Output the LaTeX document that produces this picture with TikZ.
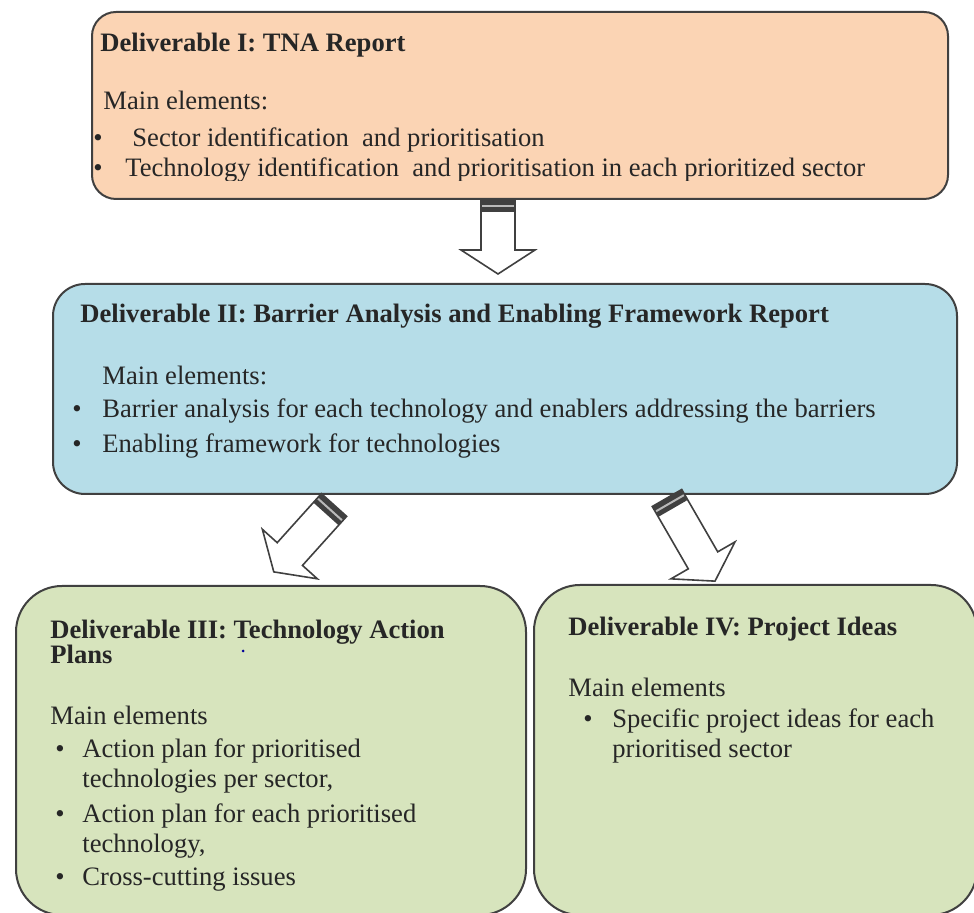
\documentclass[tikz,border=0pt]{standalone}
\usepackage{fontspec}
\setmainfont{Liberation Serif}
\definecolor{tnaorange}{HTML}{FBD4B4}
\definecolor{barrierblue}{HTML}{B6DDE8}
\definecolor{tapgreen}{HTML}{D7E4BD}
\definecolor{boxline}{HTML}{404040}
\definecolor{inkgray}{HTML}{262626}

\begin{document}
\begin{tikzpicture}[x=0.5pt, y=-0.5pt,
	box/.style={draw=boxline, line width=1pt, inner sep=0pt},
	txt/.style={anchor=base west, inner sep=0pt, text=inkgray, font=\fontsize{13.3}{15}\selectfont, align=left},
	head/.style={txt, font=\fontsize{13.3}{15}\selectfont\bfseries},
	pics/blockarrow/.style={code={
		\draw[draw=boxline, fill=white, line width=0.8pt] (0,-17) -- (#1-24,-17) -- (#1-24,-37) -- (#1,0) -- (#1-24,37) -- (#1-24,17) -- (0,17) -- cycle;
		\fill[boxline] (0,-17) rectangle (12,17);
		\draw[gray!55, line width=1pt] (6,-16) -- (6,16);
	}}]
	\clip (0,0) rectangle (974,913);
	% the four deliverables
	\node[box, fill=tnaorange, rounded corners=12pt, minimum width=428pt, minimum height=93.5pt] (tna) at (520,105.5) {};
	\node[box, fill=barrierblue, rounded corners=16pt, minimum width=452pt, minimum height=105pt] (baef) at (505,389) {};
	\node[box, fill=tapgreen, rounded corners=23pt, minimum width=255pt, minimum height=164.5pt] (tap) at (271,750.5) {};
	\node[box, fill=tapgreen, rounded corners=23pt, minimum width=221.5pt, minimum height=165pt] (pid) at (755.5,750) {};

	% Deliverable I
	\node[head] (tnaHead) at (100,52) {Deliverable I: TNA Report};
	\node[txt] (tnaMain) at (103,110) {Main elements:};
	\node[txt] (tnaDotA) at (93,147) {\textbullet};
	\node[txt] (tnaItemA) at (132,147) {Sector identification \ and prioritisation};
	\node[txt] (tnaDotB) at (93,177) {\textbullet};
	\begin{scope}
		\clip (0,0) rectangle (974,181);
		\node[txt] (tnaItemB) at (125,177) {Technology identification \ and prioritisation in each prioritized sector};
	\end{scope}

	% Deliverable II
	\node[head] (baefHead) at (80,323) {Deliverable II: Barrier Analysis and Enabling Framework Report};
	\node[txt] (baefMain) at (102,385) {Main elements:};
	\node[txt] (baefDotA) at (72,418) {\textbullet};
	\node[txt] (baefItemA) at (102,418) {Barrier analysis for each technology and enablers addressing the barriers};
	\node[txt] (baefDotB) at (72,453) {\textbullet};
	\node[txt] (baefItemB) at (102,453) {Enabling framework for technologies};

	% Deliverable III (two-line nodes sit on the baseline of their last line)
	\node[head] (tapHead) at (50,664) {Deliverable III: Technology Action\\[-2.3pt]Plans};
	\fill[blue!60!black] (243,651) circle (1.5);
	\node[txt] (tapMain) at (50,725) {Main elements};
	\node[txt] (tapDotA) at (55,757) {\textbullet};
	\node[txt] (tapItemA) at (82,787) {Action plan for prioritised\\technologies per sector,};
	\node[txt] (tapDotB) at (55,822) {\textbullet};
	\node[txt] (tapItemB) at (82,852) {Action plan for each prioritised\\technology,};
	\node[txt] (tapDotC) at (55,885) {\textbullet};
	\node[txt] (tapItemC) at (82,885) {Cross-cutting issues};

	% Deliverable IV
	\node[head] (pidHead) at (568,636) {Deliverable IV: Project Ideas};
	\node[txt] (pidMain) at (568,697) {Main elements};
	\node[txt] (pidDotA) at (583,727) {\textbullet};
	\node[txt] (pidItemA) at (612,757) {Specific project ideas for each\\prioritised sector};

	% flow arrows
	\coordinate (tnaOut) at (498,0 |- tna.south);
	\coordinate (baefOutL) at (334,505);
	\coordinate (baefOutR) at (667,498);
	\pic[rotate=-90] at (tnaOut) {blockarrow=74};
	\pic[rotate=-132] at (baefOutL) {blockarrow=90};
	\pic[rotate=-60] at (baefOutR) {blockarrow=96};
\end{tikzpicture}
\end{document}
